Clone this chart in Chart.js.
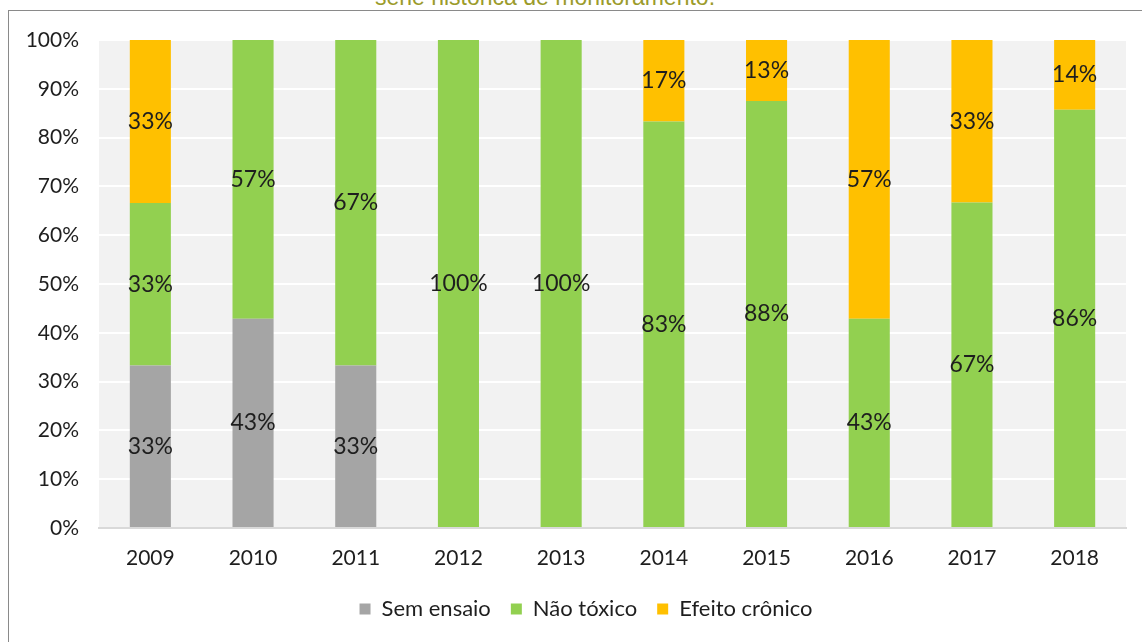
<!DOCTYPE html>
<html>
<head>
<meta charset="utf-8">
<script src="https://cdn.jsdelivr.net/npm/chart.js@4.4.1/dist/chart.umd.min.js"></script>
<style>
  html, body { margin: 0; padding: 0; background: #fff; }
  #wrap { position: relative; width: 1142px; height: 642px; overflow: hidden; }
  #frame { position: absolute; left: 8px; top: 10px; width: 1200px; height: 700px;
           border-left: 1px solid #8a8a8a; border-top: 1px solid #8a8a8a; }
  #title { position: absolute; left: 0; width: 1090px; top: -14px; text-align: center;
           font: 23px/23px "Liberation Sans", Arial, sans-serif; color: #9b9b2b; }
  #chartBox { position: absolute; left: 0; top: 0; width: 1142px; height: 642px; }
</style>
</head>
<body>
<div id="wrap">
  <div id="frame"></div>
  <div id="title">série histórica de monitoramento.</div>
  <div id="chartBox"><canvas id="myChart" width="1142" height="642"></canvas></div>
</div>
<script>
// data (percent of samples per year)
const years = ['2009', '2010', '2011', '2012', '2013', '2014', '2015', '2016', '2017', '2018'];
const semEnsaio = [33.3, 42.9, 33.3, 0, 0, 0, 0, 0, 0, 0];
const naoToxico = [33.3, 57.1, 66.7, 100, 100, 83.3, 87.5, 42.9, 66.7, 85.7];
const efeitoCronico = [33.4, 0, 0, 0, 0, 16.7, 12.5, 57.1, 33.3, 14.3];
const yTicks = [0, 10, 20, 30, 40, 50, 60, 70, 80, 90, 100];

const fontFamily = 'Lato, "Noto Sans", sans-serif';

// gray plot background like excel
const plotBg = {
  id: 'plotBg',
  beforeDraw(chart) {
    const a = chart.chartArea;
    const ctx = chart.ctx;
    ctx.save();
    ctx.fillStyle = '#f2f2f2';
    ctx.fillRect(a.left, a.top, a.right - a.left, a.bottom - a.top);
    ctx.restore();
  }
};

// legend sits a bit right of the canvas centre in the original
const legendShift = {
  id: 'legendShift',
  afterLayout(chart) {
    chart.legend.left += 23;
    chart.legend.right += 23;
  }
};

// percent labels in the middle of each segment
const segLabels = {
  id: 'segLabels',
  afterDatasetsDraw(chart) {
    const ctx = chart.ctx;
    ctx.save();
    ctx.font = '23px ' + fontFamily;
    ctx.fillStyle = '#1e1e1e';
    ctx.textAlign = 'center';
    ctx.textBaseline = 'middle';
    chart.data.datasets.forEach((ds, i) => {
      const meta = chart.getDatasetMeta(i);
      meta.data.forEach((bar, j) => {
        const v = ds.data[j];
        if (!v) return;
        ctx.fillText(Math.round(v) + '%', bar.x, (bar.y + bar.base) / 2);
      });
    });
    ctx.restore();
  }
};

const config = {
  type: 'bar',
  data: {
    labels: years,
    datasets: [
      { label: 'Sem ensaio', data: semEnsaio, backgroundColor: '#a5a5a5' },
      { label: 'Não tóxico', data: naoToxico, backgroundColor: '#92d050' },
      { label: 'Efeito crônico', data: efeitoCronico, backgroundColor: '#ffc000' }
    ]
  },
  options: {
    responsive: false,
    animation: false,
    events: [],
    layout: { padding: { top: 40, right: 16, left: 0, bottom: 12 } },
    datasets: { bar: { categoryPercentage: 1, barPercentage: 0.4 } },
    scales: {
      x: {
        stacked: true,
        grid: { display: false, drawTicks: false },
        border: { display: true, color: '#d9d9d9', width: 2 },
        ticks: { padding: 18, color: '#1e1e1e', font: { family: fontFamily, size: 21 } },
        afterFit(scale) { scale.height = 50; }
      },
      y: {
        stacked: true,
        min: 0,
        max: 100,
        afterBuildTicks(scale) { scale.ticks = yTicks.map(v => ({ value: v })); },
        grid: { color: (c) => c.tick && c.tick.value === 0 ? '#d9d9d9' : '#ffffff', lineWidth: 2, drawTicks: false },
        border: { display: false },
        ticks: { padding: 20, color: '#1e1e1e', font: { family: fontFamily, size: 21 },
                 callback: (v) => v + '%' },
        afterFit(scale) { scale.width = 99; }
      }
    },
    plugins: {
      legend: {
        position: 'bottom',
        labels: { boxWidth: 11, boxHeight: 11, padding: 20, color: '#1e1e1e',
                  font: { family: fontFamily, size: 22 } }
      },
      title: { display: false },
      tooltip: { enabled: false }
    }
  },
  plugins: [plotBg, legendShift, segLabels]
};

new Chart(document.getElementById('myChart'), config);
</script>
</body>
</html>
